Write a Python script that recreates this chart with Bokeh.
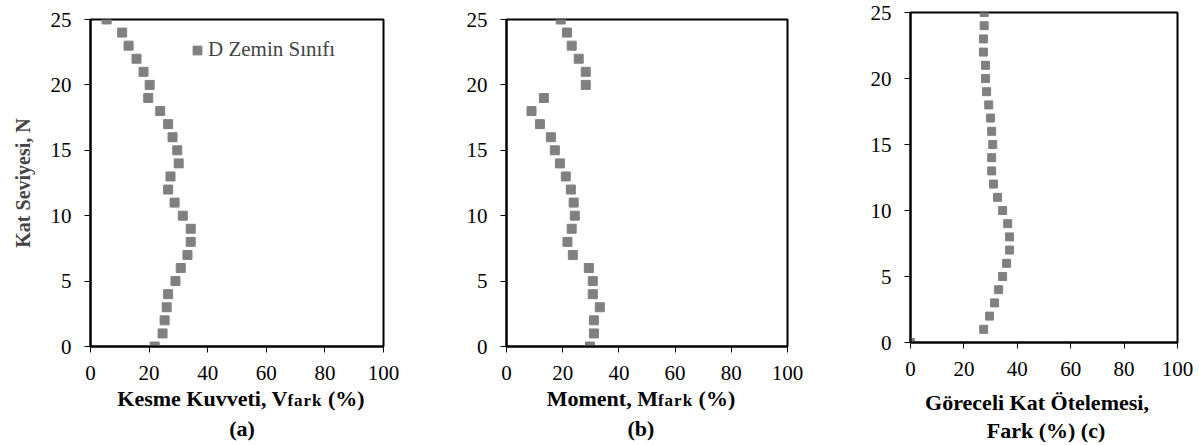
from bokeh.plotting import figure
from bokeh.models import Range1d, Legend, LegendItem, FixedTicker, Div
from bokeh.layouts import row, column
from bokeh.embed import file_html
from bokeh.resources import INLINE

# ---------------- data ----------------
levels = list(range(26))  # Kat seviyesi N = 0..25
shear_diff = [21.9, 24.6, 25.3, 26.0, 26.5, 29.0, 30.8, 33.1, 34.2, 34.2,
              31.5, 28.7, 26.5, 27.3, 30.1, 29.6, 28.0, 26.5, 23.8, 19.7,
              20.2, 18.1, 15.7, 13.0, 10.8, 5.5]
moment_diff = [29.7, 31.1, 31.1, 33.2, 30.7, 30.7, 29.3, 23.6, 21.7, 23.2,
               24.3, 23.9, 22.9, 21.1, 19.0, 17.2, 15.8, 11.9, 8.9, 13.3,
               28.2, 28.2, 25.7, 23.2, 21.5, 19.3]
drift_diff = [0.0, 27.4, 29.6, 31.5, 33.0, 34.5, 36.0, 37.1, 37.1, 36.4,
              34.5, 32.6, 31.1, 30.4, 30.4, 30.8, 30.4, 30.0, 29.3, 28.5,
              28.1, 28.1, 27.3, 27.3, 27.6, 27.6]
x_ticks = [0, 20, 40, 60, 80, 100]
y_ticks = [0, 5, 10, 15, 20, 25]
series_name = "D Zemin Sınıfı"
y_title = "Kat Seviyesi, N"
title_a = ("Kesme Kuvveti, V", "fark", " (%)", "(a)")
title_b = ("Moment, M", "fark", " (%)", "(b)")
title_c = ("Göreceli Kat Ötelemesi,", "Fark (%) (c)")

FONT = "Liberation Serif"
GRAY = "#808080"


def make_fig(fw, fh, left, right, top, bottom):
    p = figure(frame_width=fw, frame_height=fh,
               min_border_left=left, min_border_right=right,
               min_border_top=top, min_border_bottom=bottom,
               x_range=Range1d(0, 100), y_range=Range1d(0, 25),
               output_backend="svg", toolbar_location=None)
    p.xgrid.visible = False
    p.ygrid.visible = False
    p.outline_line_color = "black"
    p.outline_line_width = 2
    p.outline_line_alpha = 1
    p.background_fill_color = "white"
    p.border_fill_color = "white"
    for ax, ticks in ((p.xaxis, x_ticks), (p.yaxis, y_ticks)):
        ax.ticker = FixedTicker(ticks=ticks)
        ax.axis_line_color = "black"
        ax.axis_line_width = 2
        ax.major_tick_line_color = "black"
        ax.major_tick_line_width = 1
        ax.major_tick_in = 0
        ax.major_tick_out = 6
        ax.minor_tick_line_color = None
        ax.major_label_text_font = FONT
        ax.major_label_text_font_size = "21px"
        ax.major_label_text_color = "black"
    p.xaxis.major_label_standoff = 13
    p.yaxis.major_label_standoff = 13
    return p


BASE = ("font-family:'Liberation Serif'; font-weight:bold; font-size:22px; "
        "color:black; white-space:nowrap; text-align:center;")


def caption(width, height, lines):
    # lines: list of (html, left_px, box_width, line_height)
    parts = []
    for html, left, bw, lh in lines:
        parts.append(f'<div style="position:relative; left:{left}px; width:{bw}px; '
                     f'line-height:{lh}px; {BASE}">{html}</div>')
    text = f'<div style="width:{width}px;">' + "".join(parts) + "</div>"
    return Div(text=text, width=width, height=height, margin=(0, 0, 0, 0))


def sub_line(t):
    return (f'{t[0]}<span style="font-size:17px; letter-spacing:1px">{t[1]}</span>'
            f'{t[2]}')


# ---------------- panel (a) ----------------
pa = make_fig(293, 327, 90, 20, 19, 42)
ra = pa.scatter(shear_diff, levels, marker="square", size=9,
                fill_color=GRAY, line_color=GRAY)
pa.yaxis.axis_label = y_title
pa.yaxis.axis_label_text_font = FONT
pa.yaxis.axis_label_text_font_style = "bold"
pa.yaxis.axis_label_text_font_size = "20px"
pa.yaxis.axis_label_standoff = 14
legend = Legend(items=[LegendItem(label=series_name, renderers=[ra])],
                location=(96, 284), padding=0, margin=0, spacing=0,
                glyph_width=22, glyph_height=22, label_standoff=0,
                label_text_font=FONT, label_text_font_size="21px",
                border_line_alpha=0, background_fill_alpha=0)
pa.add_layout(legend)
da = caption(403, 56, [(sub_line(title_a), 91, 300, 22),
                       (title_a[3], 92, 300, 34)])

# ---------------- panel (b) ----------------
pb = make_fig(281, 327, 103, 20, 19, 42)
pb.scatter(moment_diff, levels, marker="square", size=9,
           fill_color=GRAY, line_color=GRAY)
db = caption(404, 56, [(sub_line(title_b), 88, 300, 22),
                       (title_b[3], 88, 300, 34)])

# ---------------- panel (c) ----------------
pc = make_fig(267, 330, 103, 22, 12, 42)
pc.scatter(drift_diff, levels, marker="square", size=8,
           fill_color=GRAY, line_color=GRAY)
dc = caption(392, 60, [(title_c[0], 80, 300, 38),
                       (title_c[1], 89, 300, 18)])

layout = row(column(pa, da), column(pb, db), column(pc, dc))

open("out.html", "w").write(file_html(layout, INLINE))
